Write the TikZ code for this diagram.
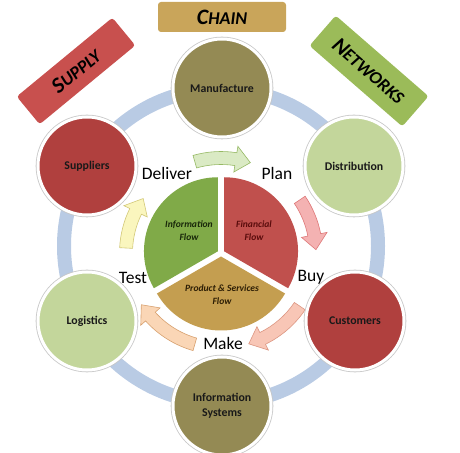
\documentclass[tikz,border=0pt]{standalone}
\usepackage{fontspec}
\setmainfont{Carlito}
\usetikzlibrary{calc}
\definecolor{ringblue}{RGB}{185,203,228}
\definecolor{oliveC}{RGB}{148,138,84}
\definecolor{dredC}{RGB}{176,64,62}
\definecolor{lgreenC}{RGB}{195,214,155}
\definecolor{piegreen}{RGB}{128,170,72}
\definecolor{piered}{RGB}{192,80,77}
\definecolor{piebrown}{RGB}{196,158,80}
\definecolor{chaingold}{RGB}{201,165,90}
\definecolor{supplyred}{RGB}{200,80,78}
\definecolor{netgreen}{RGB}{155,187,89}
\definecolor{txtGreen}{RGB}{25,40,10}
\definecolor{txtRed}{RGB}{90,12,12}
\definecolor{txtBrown}{RGB}{45,30,5}
\definecolor{aGreenF}{RGB}{218,234,196}\definecolor{aGreenD}{RGB}{150,185,100}
\definecolor{aPinkF}{RGB}{244,178,178}\definecolor{aPinkD}{RGB}{222,120,120}
\definecolor{aPeachF}{RGB}{248,198,182}\definecolor{aPeachD}{RGB}{220,150,130}
\definecolor{aOrangeF}{RGB}{250,214,182}\definecolor{aOrangeD}{RGB}{215,160,110}
\definecolor{aYellowF}{RGB}{250,246,190}\definecolor{aYellowD}{RGB}{210,200,120}
\newcommand{\fsc}[2]{#1{\fontsize{18}{18}\selectfont #2}}
\newcommand{\curvarrow}[4]{%
  \pgfmathsetmacro{\ee}{#2+9}
  \filldraw[fill=#3,draw=#4,line width=0.6pt]
    ($(pc)+(#1:101.5pt)$) arc[start angle=#1,end angle=\ee,radius=101.5pt]
    -- ($(pc)+(\ee:108pt)$) -- ($(pc)+(#2:95pt)$) -- ($(pc)+(\ee:82pt)$)
    -- ($(pc)+(\ee:88.5pt)$) arc[start angle=\ee,end angle=#1,radius=88.5pt] -- cycle;}
\tikzset{
  circ/.style={circle,minimum size=98pt,inner sep=0pt,draw=white,line width=3pt,
    preaction={draw=black!22,line width=4.6pt},align=center,
    font=\bfseries\fontsize{11.8}{15}\selectfont,text=black!90},
  flowlbl/.style={font=\fontsize{17.5}{19}\selectfont,text=black},
  pietext/.style={font=\bfseries\itshape\fontsize{9.6}{13}\selectfont,align=center},
  titlebox/.style={rounded corners=3pt,inner sep=0pt,text=black,
    font=\bfseries\itshape\fontsize{22}{22}\selectfont}
}
\begin{document}
\begin{tikzpicture}[x=1pt,y=1pt]
\useasboundingbox (0,0) rectangle (460,452);
\coordinate (rc) at (221,206);
\coordinate (pc) at (221,199);
% ring
\draw[ringblue,line width=14pt] (rc) circle[radius=157pt];
% pie
\fill[piegreen] ($(pc)+(150:3.5pt)$) coordinate (g0) -- ++(90:74pt)
  arc[start angle=90,end angle=210,radius=74pt] -- cycle;
\fill[piered] ($(pc)+(30:3.5pt)$) coordinate (r0) -- ++(90:74pt)
  arc[start angle=90,end angle=-30,radius=74pt] -- cycle;
\fill[piebrown] ($(pc)+(270:3.5pt)$) coordinate (b0) -- ++(210:74pt)
  arc[start angle=210,end angle=330,radius=74pt] -- cycle;
\node[pietext,text=txtGreen] (infoflow) at (189,221.5) {Information\\Flow};
\node[pietext,text=txtRed] (finflow) at (254,221.5) {Financial\\Flow};
\node[pietext,text=txtBrown] (prodflow) at (222,157) {Product \& Services\\Flow};
% curved arrows
\curvarrow{106}{72}{aGreenF}{aGreenD}
\curvarrow{34}{2}{aPinkF}{aPinkD}
\curvarrow{-34}{-73}{aPeachF}{aPeachD}
\curvarrow{-106}{-147}{aOrangeF}{aOrangeD}
\curvarrow{177}{145}{aYellowF}{aYellowD}
% labels
\node[flowlbl] (deliver) at (167,279) {Deliver};
\node[flowlbl] (plan) at (277,279) {Plan};
\node[flowlbl] (buy) at (311,175) {Buy};
\node[flowlbl] (test) at (133,174) {Test};
\node[flowlbl] (make) at (223,109) {Make};
% circles
\node[circ,fill=oliveC] (manu) at (222,364) {Manufacture};
\node[circ,fill=dredC] (supp) at (87,286) {Suppliers};
\node[circ,fill=lgreenC] (dist) at (354,286) {Distribution};
\node[circ,fill=lgreenC] (logi) at (87,131) {Logistics};
\node[circ,fill=dredC] (cust) at (355,131) {Customers};
\node[circ,fill=oliveC] (insys) at (222,46) {Information\\Systems};
% titles
\node[titlebox,fill=chaingold,minimum width=128pt,minimum height=30pt] (chain) at (222,435) {\fsc{C}{HAIN}};
\node[titlebox,fill=supplyred,rotate=39.5,minimum width=124pt,minimum height=36pt] (supply) at (76,381) {\fsc{S}{UPPLY}};
\node[titlebox,fill=netgreen,rotate=-41,minimum width=123pt,minimum height=40pt] (networks) at (369,381) {\fsc{N}{ETWORKS}};
\end{tikzpicture}
\end{document}
